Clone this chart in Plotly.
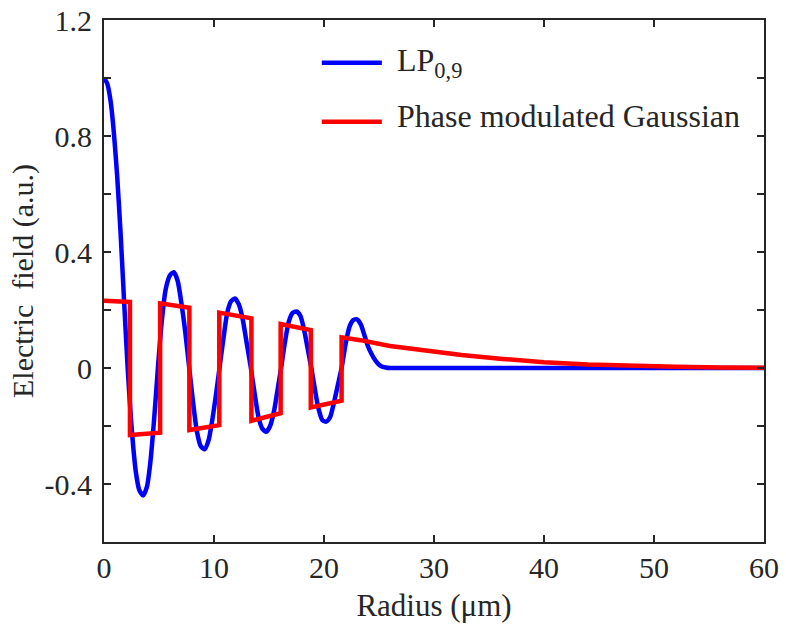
import plotly.graph_objects as go

# LP0,9 mode profile
lp_r = [0, 0.3, 0.6, 0.9, 1.2, 1.5, 1.8, 2.15,
        2.5, 2.9, 3.2, 3.55, 3.9, 4.2, 4.55, 4.9,
        5.25, 5.6, 6.0, 6.35, 6.7, 7.05, 7.4, 7.75,
        8.1, 8.45, 8.8, 9.15, 9.5, 9.8, 10.15, 10.5,
        10.85, 11.2, 11.55, 11.9, 12.25, 12.6, 13.0, 13.35,
        13.7, 14.05, 14.4, 14.75, 15.1, 15.45, 15.8, 16.1,
        16.45, 16.8, 17.15, 17.5, 17.85, 18.2, 18.5, 18.85,
        19.2, 19.5, 19.85, 20.2, 20.55, 20.9, 21.25, 21.6,
        21.95, 22.3, 22.65, 23.0, 23.35, 23.7, 24.0, 24.3, 24.6, 24.9, 25.2, 25.6,
        26.0, 30, 40, 50, 60]
lp_v = [1.0, 0.98, 0.92, 0.81, 0.66, 0.47, 0.25, 0.0,
        -0.2, -0.36, -0.42, -0.44, -0.41, -0.33, -0.18, 0.0,
        0.16, 0.27, 0.32, 0.33, 0.30, 0.22, 0.12, 0.0,
        -0.12, -0.22, -0.27, -0.28, -0.25, -0.19, -0.10, 0.0,
        0.10, 0.19, 0.23, 0.24, 0.22, 0.17, 0.08, 0.0,
        -0.09, -0.17, -0.21, -0.22, -0.20, -0.15, -0.07, 0.0,
        0.09, 0.16, 0.19, 0.195, 0.18, 0.13, 0.07, 0.0,
        -0.08, -0.14, -0.18, -0.185, -0.17, -0.12, -0.06, 0.0,
        0.08, 0.14, 0.165, 0.168, 0.15, 0.11, 0.075, 0.05, 0.03, 0.015, 0.006, 0.002,
        0.0, 0.0, 0.0, 0.0, 0.0]

# Phase modulated Gaussian
pg_r = [0, 2.36, 2.36, 5.1, 5.1, 7.76, 7.76, 10.48, 10.48, 13.4, 13.4,
        16.06, 16.06, 18.8, 18.8, 21.6, 21.6,
        23.3, 26, 29, 32.5, 36, 40, 44, 48, 52, 56, 60]
pg_v = [0.232, 0.228, -0.231, -0.223, 0.223, 0.208, -0.214, -0.197, 0.191, 0.171, -0.182,
        -0.156, 0.152, 0.131, -0.136, -0.113, 0.106,
        0.096, 0.076, 0.06, 0.045, 0.032, 0.02, 0.012, 0.007, 0.004, 0.002, 0.001]

series_names = ["LP<sub>0,9</sub>", "Phase modulated Gaussian"]
series_colors = ["#0000ff", "#ff0000"]

x_ticks = [0, 10, 20, 30, 40, 50, 60]
y_ticks = [-0.4, 0, 0.4, 0.8, 1.2]
y_labels = ["-0.4", "0", "0.4", "0.8", "1.2"]
y_minor_ticks = [-0.6, -0.2, 0.2, 0.6, 1.0]

FONT = "Liberation Serif"
AX = "#262626"
LW = 4.5

fig = go.Figure()
fig.add_trace(go.Scatter(x=lp_r, y=lp_v, mode="lines", name=series_names[0],
                         line=dict(color=series_colors[0], width=LW, shape="spline", smoothing=0.6)))
fig.add_trace(go.Scatter(x=pg_r, y=pg_v, mode="lines", name=series_names[1],
                         line=dict(color=series_colors[1], width=LW)))

# legend drawn in paper coordinates (long line samples like the original)
leg_line_y = [0.918, 0.805]
leg_text_y = [0.918, 0.817]
for name, col, ly, ty in zip(series_names, series_colors, leg_line_y, leg_text_y):
    fig.add_shape(type="line", xref="paper", yref="paper", x0=0.330, x1=0.421, y0=ly, y1=ly,
                  line=dict(color=col, width=LW))
    fig.add_annotation(xref="paper", yref="paper", x=0.441, y=ty, text=name, showarrow=False,
                       xanchor="left", yanchor="middle",
                       font=dict(family=FONT, size=32, color="#262626"))

fig.update_layout(
    width=786, height=625,
    margin=dict(l=104, r=22, t=20, b=83),
    paper_bgcolor="white", plot_bgcolor="white",
    font=dict(family=FONT, size=29, color="#262626"),
    showlegend=False,
)
fig.update_xaxes(range=[0, 60], tickvals=x_ticks, ticks="inside", ticklen=7,
                 tickwidth=2, tickcolor=AX, showline=True, linecolor=AX, linewidth=2,
                 mirror="ticks", showgrid=False, zeroline=False, automargin=False,
                 ticklabelstandoff=-2, ticklabeloverflow="allow",
                 title=dict(text="Radius (μm)", standoff=11, font=dict(size=31, family=FONT)),
                 tickfont=dict(size=30, family=FONT))
fig.update_yaxes(range=[-0.6, 1.2], tickvals=y_ticks, ticktext=y_labels, ticks="inside",
                 ticklen=7, tickwidth=2, tickcolor=AX, showline=True, linecolor=AX,
                 linewidth=2, mirror="ticks", showgrid=False, zeroline=False, automargin=False,
                 minor=dict(tickvals=y_minor_ticks, ticks="inside", ticklen=7, tickwidth=2,
                            tickcolor=AX, showgrid=False),
                 ticklabelstandoff=4, ticklabeloverflow="allow",
                 title=dict(text="Electric  field (a.u.)", standoff=2, font=dict(size=30, family=FONT)),
                 tickfont=dict(size=30, family=FONT))

# remove the browser's default 8px body margin so the figure fills the window
fig.write_html("out.html", config={"displayModeBar": False},
               post_script="document.body.style.margin='0px';")
